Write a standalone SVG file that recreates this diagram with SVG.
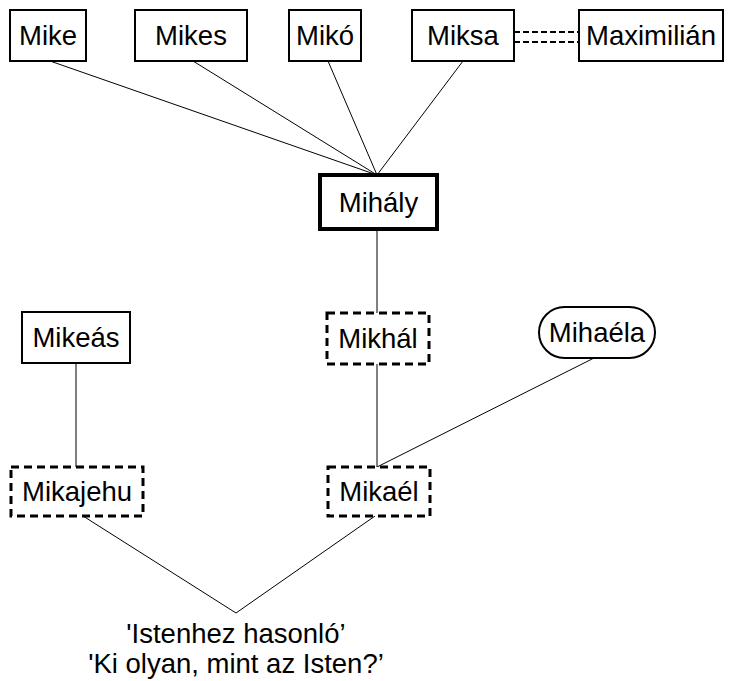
<svg xmlns="http://www.w3.org/2000/svg" width="730" height="681" viewBox="0 0 730 681">
<style>
.box{fill:#fff;stroke:#000;stroke-width:2}
.thick{fill:#fff;stroke:#000;stroke-width:4}
.dash{fill:#fff;stroke:#000;stroke-width:3;stroke-dasharray:8 5}
.t{font-family:"Liberation Sans",Arial,sans-serif;font-size:27.5px;fill:#000;text-anchor:middle}
.ln{stroke:#000;stroke-width:1;fill:none}
.dd{stroke:#000;stroke-width:2;stroke-dasharray:6 3;fill:none}
</style>
<rect width="730" height="681" fill="#fff"/>
<g id="connectors">
<line class="ln" x1="50" y1="61" x2="377" y2="175"/>
<line class="ln" x1="193" y1="61" x2="377" y2="175"/>
<line class="ln" x1="328" y1="61" x2="377" y2="175"/>
<line class="ln" x1="463" y1="61" x2="377" y2="175"/>
<line class="dd" x1="514" y1="32" x2="579" y2="32"/>
<line class="dd" x1="514" y1="42" x2="579" y2="42"/>
<line class="ln" x1="377" y1="229" x2="377" y2="313"/>
<line class="ln" x1="377" y1="364" x2="377" y2="467"/>
<line class="ln" x1="594" y1="358" x2="377" y2="467"/>
<line class="ln" x1="76" y1="363" x2="76" y2="467"/>
<line class="ln" x1="83" y1="516" x2="236" y2="613"/>
<line class="ln" x1="375" y1="516" x2="236" y2="613"/>
</g>
<g id="mike"><rect class="box" x="10" y="10" width="76" height="51"/><text class="t" x="48" y="45">Mike</text></g>
<g id="mikes"><rect class="box" x="135" y="10" width="112" height="51"/><text class="t" x="191" y="45">Mikes</text></g>
<g id="miko"><rect class="box" x="289" y="10" width="72" height="51"/><text class="t" x="325" y="45">Mikó</text></g>
<g id="miksa"><rect class="box" x="412" y="10" width="102" height="51"/><text class="t" x="463" y="45">Miksa</text></g>
<g id="maximilian"><rect class="box" x="579" y="10" width="144" height="51"/><text class="t" x="651" y="45">Maximilián</text></g>
<g id="mihaly"><rect class="thick" x="320" y="175" width="117" height="54"/><text class="t" x="378.5" y="212">Mihály</text></g>
<g id="mikeas"><rect class="box" x="22" y="312" width="108" height="51"/><text class="t" x="76" y="347">Mikeás</text></g>
<g id="mikhal"><rect class="dash" x="327" y="313" width="102" height="51"/><text class="t" x="378" y="348">Mikhál</text></g>
<g id="mihaela"><rect class="box" x="539" y="307" width="116" height="51" rx="25.5" ry="25.5"/><text class="t" x="597" y="342">Mihaéla</text></g>
<g id="mikajehu"><rect class="dash" x="11" y="467" width="132" height="49"/><text class="t" x="77" y="501">Mikajehu</text></g>
<g id="mikael"><rect class="dash" x="328" y="467" width="102" height="49"/><text class="t" x="379" y="501">Mikaél</text></g>
<g id="meaning"><text class="t" x="236" y="643">'Istenhez hasonló’</text><text class="t" x="236" y="673">'Ki olyan, mint az Isten?’</text></g>
</svg>
